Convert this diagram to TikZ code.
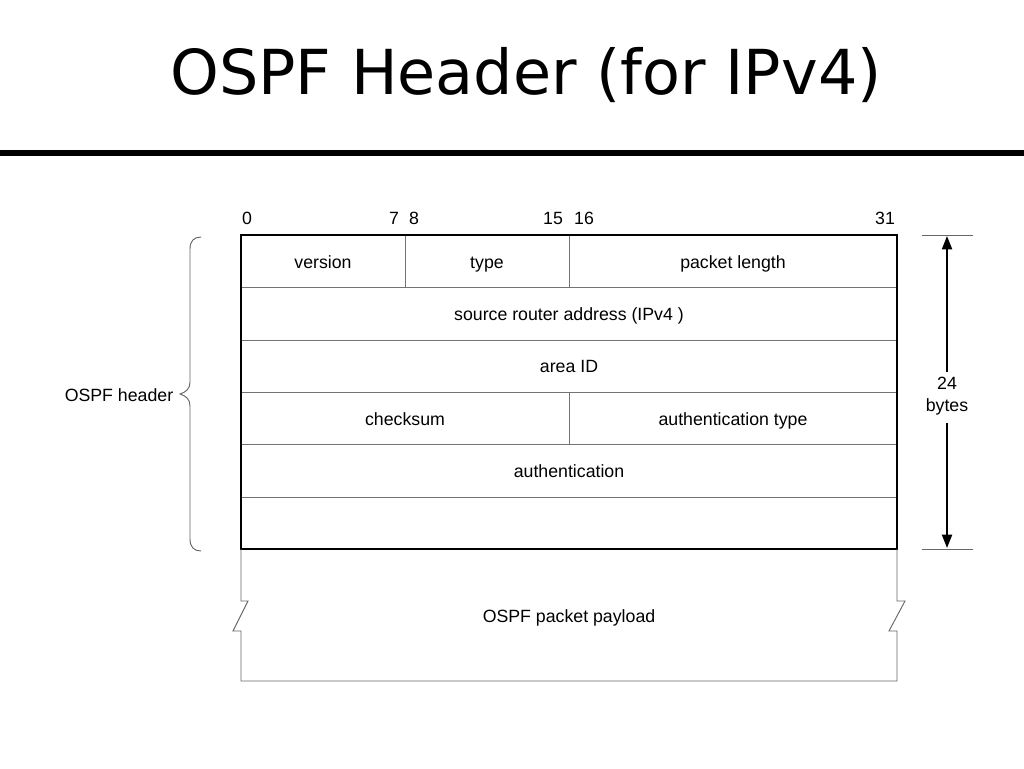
\documentclass[tikz,border=0pt]{standalone}
\usepackage{fontspec}
\setmainfont{Liberation Sans}
\newfontfamily\titlefont{DejaVu Sans}
\usetikzlibrary{arrows.meta}
\begin{document}
\begin{tikzpicture}[x=0.75pt,y=-0.75pt,
  lbl/.style={inner sep=0pt,text height=9.5pt,text depth=2.5pt,yshift=-1.5pt,font=\fontsize{13.3}{15.5}\selectfont},
  inner/.style={draw=black!55,line width=0.7pt},
  outer/.style={draw=black,line width=1.5pt},
  thin/.style={draw=black!60,line width=0.7pt},
  dim/.style={draw=black,line width=1.5pt,-{Triangle[length=10pt,width=7.5pt]}}]
\useasboundingbox (0,0) rectangle (1024,768);
% title
\node[inner sep=0pt] (title) at (526,75) {\titlefont\fontsize{46.5}{54}\selectfont OSPF Header (for IPv4)};
\fill (0,150) rectangle (1024,156);
% bit labels
\node[lbl] (b0) at (247,218) {0};
\node[lbl] (b7) at (394,218) {7};
\node[lbl] (b8) at (414,218) {8};
\node[lbl] (b15) at (553,218) {15};
\node[lbl] (b16) at (584,218) {16};
\node[lbl] (b31) at (885,218) {31};
% inner grid
\draw[inner] (241,287) -- (897,287);
\draw[inner] (241,340) -- (897,340);
\draw[inner] (241,392) -- (897,392);
\draw[inner] (241,444) -- (897,444);
\draw[inner] (241,497) -- (897,497);
\draw[inner] (405,235) -- (405,287);
\draw[inner] (569,235) -- (569,287);
\draw[inner] (569,392) -- (569,444);
% outer box
\draw[outer] (241,235) rectangle (897,549);
% field labels
\node[lbl] (version) at (323,262) {version};
\node[lbl] (type) at (487,262) {type};
\node[lbl] (plen) at (733,262) {packet length};
\node[lbl] (src) at (569,314) {source router address (IPv4 )};
\node[lbl] (area) at (569,366) {area ID};
\node[lbl] (cks) at (405,419) {checksum};
\node[lbl] (atype) at (733,419) {authentication type};
\node[lbl] (auth) at (569,471) {authentication};
% payload
\draw[thin] (241,549) -- (241,601) -- (248,601) -- (233,631) -- (241,631) -- (241,681)
  -- (897,681) -- (897,631) -- (889,631) -- (905,601) -- (897,601) -- (897,549);
\node[lbl] (payload) at (569,616) {OSPF packet payload};
% brace
\draw[thin] (201,237) .. controls (194,237) and (190,241) .. (190,249) -- (190,382)
  .. controls (190,389) and (186,392) .. (180,394)
  .. controls (186,396) and (190,399) .. (190,406) -- (190,539)
  .. controls (190,547) and (194,551) .. (201,551);
\node[lbl] (hdr) at (119,395) {OSPF header};
% dimension
\draw[thin] (922,235) -- (973,235);
\draw[thin] (922,549) -- (973,549);
\node[lbl] (n24) at (947,383) {24};
\node[lbl] (bytes) at (947,405) {bytes};
\coordinate (top) at (947,236);
\coordinate (bot) at (947,548);
\draw[dim] (947,372) -- (top);
\draw[dim] (947,423) -- (bot);
\end{tikzpicture}
\end{document}
